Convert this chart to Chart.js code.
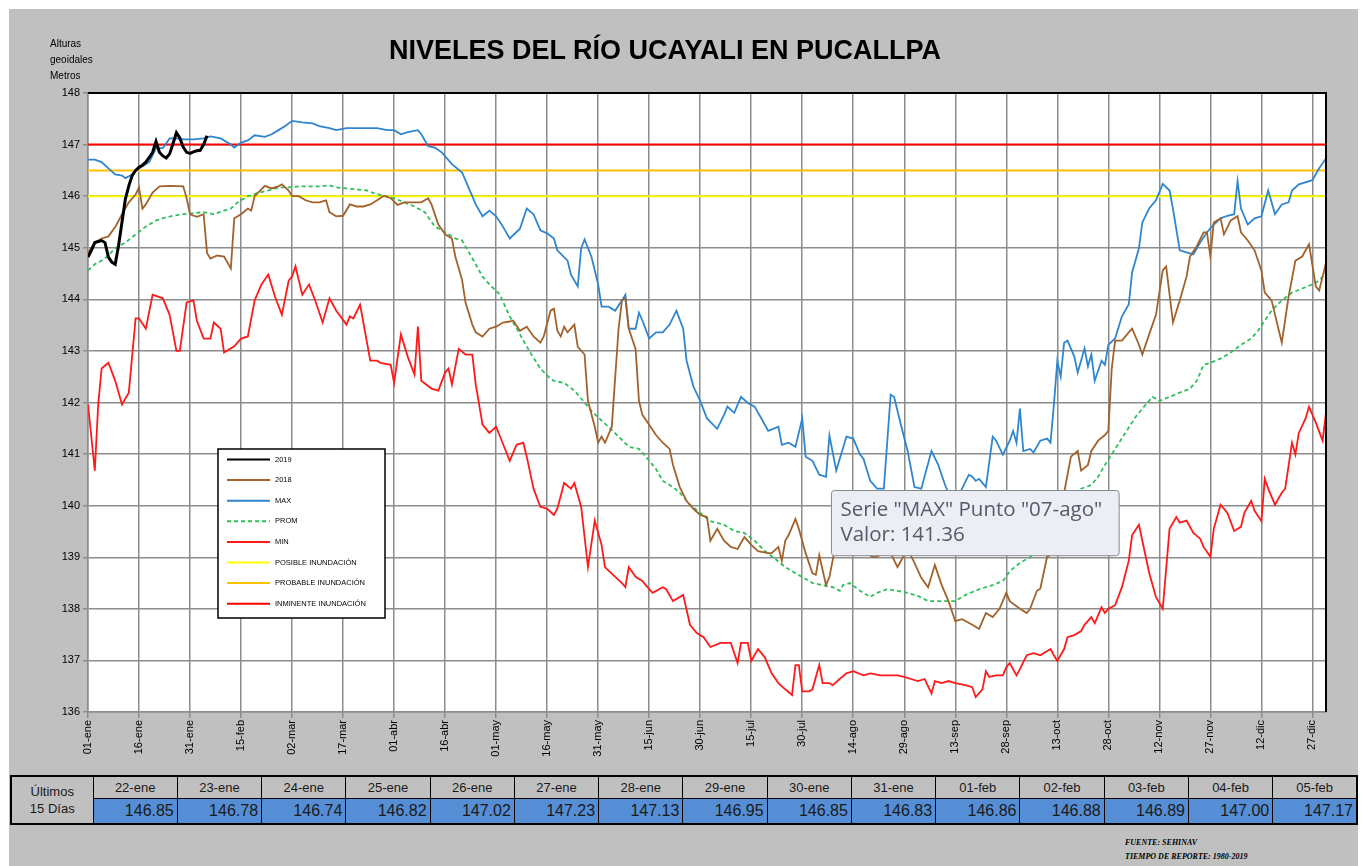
<!DOCTYPE html>
<html lang="es">
<head>
<meta charset="utf-8">
<title>Niveles del Río Ucayali en Pucallpa</title>
<script src="https://cdn.jsdelivr.net/npm/chart.js@4.4.1/dist/chart.umd.min.js"></script>
<style>
  html, body { margin: 0; padding: 0; background: #fff; }
  body { width: 1367px; height: 866px; position: relative; overflow: hidden; font-family: "Liberation Sans", Arial, sans-serif; }
  #fondo { position: absolute; left: 9px; top: 9px; width: 1349px; height: 857px; background: #c0c0c0; }
  #grafico { position: absolute; left: 0; top: 0; }
  #titulo { position: absolute; left: 0; width: 1330px; top: 35px; text-align: center; font-weight: bold; font-size: 27px; color: #000; }
  #unidad { position: absolute; left: 50px; top: 36px; font-size: 10px; line-height: 16px; color: #000; }
  #tabla { position: absolute; left: 10px; top: 775px; width: 1348px; border-collapse: collapse; table-layout: fixed; border: 2px solid #000; }
  #tabla td { border: 1.5px solid #000; padding: 0; color: #1a1a1a; }
  #tabla .cab { height: 21px; font-size: 13px; text-align: center; background: #c0c0c0; }
  #tabla .val { height: 24px; font-size: 16px; text-align: right; padding-right: 3px; background: #558ed5; }
  #tabla .izq { font-size: 13px; line-height: 17px; text-align: center; background: #c0c0c0; }
  #fuente { position: absolute; left: 1125px; top: 836px; font-family: "Liberation Serif", serif; font-style: italic; font-weight: bold; font-size: 8px; line-height: 14px; color: #000; }
</style>
</head>
<body>
<div id="fondo"></div>
<canvas id="grafico" width="1367" height="770"></canvas>
<div id="titulo">NIVELES DEL RÍO UCAYALI EN PUCALLPA</div>
<div id="unidad">Alturas<br>geoidales<br>Metros</div>
<table id="tabla">
  <colgroup id="columnas"></colgroup>
  <tr id="filaFechas"><td class="izq" rowspan="2">Últimos<br>15 Días</td></tr>
  <tr id="filaValores"></tr>
</table>
<div id="fuente">FUENTE: SEHINAV<br>TIEMPO DE REPORTE: 1980-2019</div>

<script>
// === Etiquetas del eje X (cada 15 días) ===
const etiquetasX = ["01-ene", "16-ene", "31-ene", "15-feb", "02-mar", "17-mar", "01-abr", "16-abr", "01-may",
  "16-may", "31-may", "15-jun", "30-jun", "15-jul", "30-jul", "14-ago", "29-ago", "13-sep", "28-sep",
  "13-oct", "28-oct", "12-nov", "27-nov", "12-dic", "27-dic"];
const meses = ["ene", "feb", "mar", "abr", "may", "jun", "jul", "ago", "sep", "oct", "nov", "dic"];
const diasMes = [31, 28, 31, 30, 31, 30, 31, 31, 30, 31, 30, 31];

// === Últimos 15 días (tabla) ===
const ultimasFechas = ["22-ene", "23-ene", "24-ene", "25-ene", "26-ene", "27-ene", "28-ene", "29-ene",
  "30-ene", "31-ene", "01-feb", "02-feb", "03-feb", "04-feb", "05-feb"];
const ultimosValores = [146.85, 146.78, 146.74, 146.82, 147.02, 147.23, 147.13, 146.95,
  146.85, 146.83, 146.86, 146.88, 146.89, 147.00, 147.17];

// === Año 2019 (01-ene a 21-ene), luego la tabla ===
const inicio2019 = [144.82, 144.95, 145.10, 145.12, 145.14, 145.10, 144.82, 144.72, 144.68, 145.05,
  145.50, 145.95, 146.20, 146.40, 146.50, 146.56, 146.60, 146.66, 146.75, 146.85, 147.06];

// === Series históricas [día del año, nivel] ===
const serie2018 = [[0,144.9],[2,145.1],[4,145.18],[6,145.22],[8,145.4],[10,145.65],[12,145.88],[14,146.03],[15,146.17],[16,145.76],[17,145.84],[19,146.07],[21,146.19],[24,146.2],[28,146.19],[29,145.96],[30,145.65],[32,145.6],[34,145.65],[35,144.9],[36,144.79],[38,144.85],[40,144.83],[42,144.6],[43,145.57],[45,145.65],[47,145.76],[48,145.72],[49,146.0],[52,146.2],[54,146.15],[56,146.19],[57,146.23],[59,146.11],[60,146.0],[62,146.0],[64,145.92],[66,145.88],[68,145.88],[70,145.92],[71,145.69],[73,145.61],[75,145.62],[77,145.84],[79,145.8],[81,145.8],[83,145.84],[85,145.92],[87,146.01],[89,145.96],[91,145.83],[93,145.88],[96,145.88],[98,145.88],[100,145.96],[101,145.84],[103,145.45],[105,145.26],[107,145.18],[108,144.83],[110,144.37],[111,143.94],[113,143.51],[114,143.36],[116,143.28],[118,143.43],[120,143.47],[122,143.55],[124,143.57],[125,143.59],[127,143.39],[129,143.47],[131,143.28],[133,143.16],[134,143.28],[136,143.78],[137,143.82],[138,143.39],[139,143.28],[140,143.47],[141,143.36],[143,143.51],[144,143.08],[146,142.93],[147,142.03],[149,141.53],[150,141.22],[151,141.34],[152,141.22],[154,141.53],[156,143.43],[157,143.98],[158,144.02],[159,143.43],[161,143.04],[162,142.03],[163,141.76],[165,141.57],[167,141.37],[169,141.22],[171,141.1],[172,140.79],[174,140.36],[176,140.09],[178,139.94],[180,139.82],[182,139.78],[183,139.32],[185,139.55],[187,139.32],[189,139.2],[191,139.16],[192,139.28],[193,139.39],[195,139.24],[197,139.12],[200,139.08],[201,139.08],[203,139.2],[204,138.93],[205,139.32],[206,139.43],[208,139.74],[209,139.55],[211,139.08],[213,138.69],[214,138.66],[215,139.04],[217,138.46],[218,138.62],[220,139.3],[222,139.6],[224,139.4],[226,139.2],[228,139.1],[231,139.0],[233,139.04],[236,139.08],[238,138.81],[241,139.16],[243,138.89],[245,138.6],[247,138.42],[249,138.85],[251,138.46],[253,138.15],[255,137.76],[257,137.8],[260,137.69],[262,137.61],[264,137.92],[266,137.84],[268,138.0],[270,138.31],[271,138.15],[274,138.0],[276,137.92],[277,138.0],[279,138.35],[280,138.39],[282,139.01],[283,139.04],[284,139.55],[287,140.25],[289,140.95],[291,141.06],[292,140.68],[294,140.79],[295,141.06],[297,141.26],[299,141.37],[300,141.45],[301,142.66],[302,143.2],[304,143.2],[306,143.36],[307,143.43],[309,143.12],[310,142.93],[312,143.32],[314,143.7],[316,144.56],[317,144.64],[319,143.55],[321,143.98],[323,144.44],[324,144.83],[326,145.03],[328,145.3],[329,145.3],[330,144.83],[331,145.49],[333,145.57],[334,145.26],[336,145.53],[338,145.61],[339,145.3],[341,145.14],[343,144.95],[345,144.56],[346,144.13],[348,143.98],[350,143.43],[351,143.16],[353,144.05],[355,144.75],[357,144.83],[359,145.07],[361,144.25],[362,144.17],[364,144.71]];

const serieMax = [[0,146.71],[2,146.71],[4,146.66],[6,146.54],[8,146.42],[10,146.4],[11,146.35],[13,146.42],[14,146.5],[16,146.58],[18,146.66],[20,146.93],[22,146.93],[24,147.12],[26,147.12],[28,147.1],[31,147.1],[34,147.12],[36,147.16],[39,147.12],[42,147.0],[43,146.94],[45,147.04],[47,147.08],[49,147.18],[52,147.15],[54,147.2],[56,147.28],[58,147.36],[60,147.46],[63,147.43],[66,147.41],[68,147.36],[71,147.32],[73,147.28],[76,147.32],[79,147.32],[82,147.32],[85,147.32],[88,147.28],[90,147.28],[92,147.2],[94,147.24],[97,147.28],[98,147.2],[100,146.97],[102,146.94],[104,146.85],[107,146.62],[110,146.46],[112,146.15],[114,145.84],[116,145.61],[118,145.72],[120,145.61],[122,145.41],[124,145.18],[127,145.37],[129,145.76],[131,145.65],[133,145.34],[135,145.28],[137,145.18],[138,144.95],[141,144.75],[142,144.48],[144,144.25],[145,144.99],[146,145.16],[148,144.83],[150,144.29],[151,143.86],[153,143.86],[154,143.82],[155,143.78],[157,143.98],[158,144.09],[159,143.43],[161,143.43],[162,143.74],[163,143.59],[165,143.24],[167,143.36],[169,143.36],[171,143.51],[173,143.78],[175,143.43],[176,142.81],[178,142.31],[180,142.03],[182,141.69],[185,141.49],[187,141.76],[188,141.92],[190,141.8],[192,142.11],[194,141.99],[196,141.92],[198,141.69],[200,141.45],[203,141.53],[204,141.18],[206,141.22],[208,141.14],[210,141.69],[211,140.95],[213,140.87],[215,140.6],[217,140.56],[218,141.36],[220,140.68],[223,141.34],[225,141.3],[227,140.99],[228,140.91],[230,140.48],[232,140.33],[234,140.33],[236,142.15],[237,142.11],[239,141.57],[241,141.06],[243,140.36],[245,140.33],[248,141.06],[250,140.79],[252,140.4],[254,140.1],[256,140.2],[259,140.6],[260,140.56],[261,140.48],[262,140.52],[264,140.36],[266,141.34],[267,141.26],[269,140.99],[271,141.26],[272,141.45],[273,141.22],[274,141.88],[275,141.06],[277,141.1],[278,141.03],[280,141.26],[282,141.3],[283,141.22],[284,141.96],[285,142.81],[286,142.5],[287,143.16],[288,143.2],[290,142.89],[291,142.58],[293,143.05],[294,142.7],[295,142.93],[296,142.42],[298,142.81],[299,142.73],[300,143.12],[302,143.24],[304,143.67],[306,143.9],[307,144.52],[309,144.99],[310,145.49],[312,145.76],[314,145.92],[316,146.24],[318,146.11],[319,145.76],[321,144.95],[323,144.91],[325,144.87],[327,145.1],[329,145.3],[331,145.45],[333,145.57],[335,145.62],[337,145.65],[338,146.29],[339,145.76],[341,145.45],[343,145.57],[345,145.61],[347,146.11],[348,145.88],[349,145.65],[351,145.84],[353,145.88],[354,146.11],[356,146.23],[360,146.31],[362,146.54],[364,146.73]];

const seriePromedio = [[0,144.56],[2,144.68],[5,144.79],[8,144.99],[11,145.1],[14,145.26],[17,145.41],[20,145.53],[23,145.59],[25,145.62],[28,145.65],[31,145.67],[34,145.69],[37,145.65],[40,145.72],[42,145.76],[44,145.88],[47,146.0],[50,146.06],[53,146.11],[56,146.17],[59,146.17],[62,146.19],[65,146.19],[68,146.19],[71,146.21],[73,146.17],[76,146.15],[79,146.13],[82,146.11],[84,146.06],[87,146.01],[90,145.96],[93,145.88],[96,145.8],[99,145.69],[102,145.41],[104,145.34],[106,145.26],[108,145.18],[110,145.14],[112,144.91],[114,144.68],[116,144.44],[118,144.29],[121,144.1],[124,143.67],[127,143.32],[130,142.97],[133,142.66],[136,142.46],[137,142.42],[140,142.38],[143,142.23],[146,142.0],[148,141.84],[151,141.65],[153,141.53],[156,141.34],[159,141.14],[162,141.1],[164,140.95],[167,140.71],[169,140.48],[172,140.36],[174,140.25],[177,140.02],[180,139.86],[183,139.7],[187,139.63],[190,139.51],[193,139.47],[196,139.32],[199,139.12],[202,138.97],[205,138.81],[208,138.69],[211,138.58],[213,138.5],[216,138.46],[219,138.42],[221,138.35],[222,138.46],[224,138.5],[227,138.35],[230,138.23],[232,138.31],[235,138.38],[238,138.35],[241,138.31],[244,138.25],[247,138.15],[251,138.15],[255,138.15],[258,138.27],[262,138.38],[266,138.46],[269,138.54],[271,138.73],[274,138.89],[277,139.0],[280,139.08],[283,139.16],[286,139.55],[289,140.02],[292,140.33],[295,140.4],[297,140.56],[299,140.79],[302,141.1],[305,141.41],[308,141.72],[311,141.96],[313,142.11],[315,142.03],[318,142.11],[321,142.19],[324,142.27],[326,142.42],[328,142.73],[330,142.77],[333,142.85],[336,142.97],[339,143.12],[342,143.24],[344,143.39],[346,143.59],[348,143.78],[351,143.98],[354,144.13],[357,144.21],[360,144.29],[362,144.36],[364,144.52]];

const serieMin = [[0,141.96],[2,140.68],[3,141.96],[4,142.66],[6,142.77],[8,142.42],[10,141.96],[12,142.19],[14,143.63],[15,143.63],[17,143.43],[19,144.09],[22,144.02],[24,143.7],[26,143.0],[27,143.0],[29,143.94],[31,143.98],[32,143.59],[34,143.24],[36,143.24],[37,143.55],[39,143.43],[40,142.97],[43,143.09],[45,143.24],[47,143.28],[49,143.98],[51,144.29],[53,144.48],[55,144.05],[57,143.7],[59,144.36],[60,144.44],[61,144.64],[63,144.09],[65,144.29],[67,143.94],[69,143.55],[71,144.02],[73,143.78],[76,143.51],[77,143.67],[78,143.63],[80,143.9],[83,142.81],[85,142.81],[86,142.77],[89,142.73],[90,142.38],[92,143.32],[94,142.89],[96,142.54],[97,143.47],[98,142.42],[101,142.27],[103,142.23],[105,142.58],[106,142.66],[107,142.35],[109,143.04],[111,142.93],[113,142.93],[114,142.35],[116,141.57],[118,141.41],[120,141.53],[122,141.2],[124,140.87],[126,141.18],[128,141.22],[129,140.95],[131,140.33],[133,139.98],[135,139.94],[137,139.82],[138,139.94],[140,140.44],[142,140.33],[143,140.44],[145,139.98],[147,138.81],[149,139.71],[151,139.24],[152,138.81],[155,138.62],[157,138.5],[158,138.42],[159,138.81],[161,138.62],[163,138.54],[164,138.46],[166,138.31],[169,138.42],[170,138.38],[172,138.15],[175,138.27],[177,137.69],[179,137.53],[181,137.45],[183,137.26],[186,137.34],[189,137.34],[191,136.95],[192,137.34],[194,137.34],[195,136.99],[197,137.22],[199,137.06],[201,136.75],[203,136.56],[205,136.44],[207,136.33],[208,136.91],[209,136.91],[210,136.4],[212,136.4],[213,136.44],[215,136.91],[216,136.56],[218,136.56],[219,136.52],[221,136.64],[223,136.75],[225,136.79],[228,136.71],[230,136.75],[233,136.71],[235,136.71],[238,136.71],[240,136.68],[242,136.64],[244,136.6],[246,136.64],[248,136.36],[249,136.6],[251,136.56],[253,136.6],[255,136.56],[258,136.52],[260,136.48],[261,136.29],[263,136.44],[264,136.79],[265,136.68],[267,136.71],[269,136.71],[270,136.87],[271,136.95],[273,136.71],[274,136.83],[276,137.1],[278,137.14],[280,137.1],[283,137.22],[284,137.1],[285,136.99],[287,137.22],[288,137.45],[290,137.49],[292,137.57],[293,137.69],[295,137.84],[296,137.72],[298,138.03],[299,137.92],[300,138.0],[302,138.07],[304,138.42],[306,138.93],[307,139.43],[309,139.63],[310,139.32],[312,138.7],[314,138.23],[316,138.0],[317,138.77],[318,139.55],[320,139.78],[321,139.67],[323,139.71],[325,139.47],[327,139.36],[328,139.2],[330,139.01],[331,139.55],[333,140.02],[335,139.86],[337,139.51],[339,139.59],[340,139.86],[342,140.09],[343,139.9],[345,139.7],[346,140.52],[347,140.33],[349,140.02],[351,140.25],[352,140.33],[354,141.22],[355,140.99],[356,141.41],[358,141.69],[359,141.92],[361,141.61],[363,141.26],[364,141.8]];

// === Niveles de alerta ===
const nombresAlerta = ["POSIBLE INUNDACIÓN", "PROBABLE INUNDACIÓN", "INMINENTE INUNDACIÓN"];
const nivelesAlerta = [146, 146.5, 147];
const coloresAlerta = ["#ffff00", "#ffc000", "#ff0000"];

// === Punto señalado ===
const puntoSerie = "MAX";
const puntoDia = 218;

const ultimoDia = 364;

function fechaDeDia(d) {
  let m = 0;
  while (d >= diasMes[m]) { d -= diasMes[m]; m++; }
  return String(d + 1).padStart(2, "0") + "-" + meses[m];
}

const aPuntos = (serie) => serie.map(([x, y]) => ({ x, y }));
const datos2019 = inicio2019.concat(ultimosValores).map((y, i) => ({ x: i, y }));

const datasets = [
  { label: "2019", data: datos2019, borderColor: "#000000", borderWidth: 3 },
  { label: "2018", data: aPuntos(serie2018), borderColor: "#a3622b", borderWidth: 1.8 },
  { label: "MAX", data: aPuntos(serieMax), borderColor: "#2f86cf", borderWidth: 1.8 },
  { label: "PROM", data: aPuntos(seriePromedio), borderColor: "#2fbf5c", borderWidth: 1.8, borderDash: [4, 3] },
  { label: "MIN", data: aPuntos(serieMin), borderColor: "#ff1a1a", borderWidth: 1.8 },
];
nombresAlerta.forEach((nombre, i) => {
  datasets.push({
    label: nombre,
    data: [{ x: 0, y: nivelesAlerta[i] }, { x: ultimoDia, y: nivelesAlerta[i] }],
    borderColor: coloresAlerta[i], borderWidth: 2,
  });
});
datasets.forEach((ds) => { ds.pointRadius = 0; ds.pointHoverRadius = 0; ds.tension = 0; ds.fill = false; });

// === Plugins propios ===
const areaBlanca = {
  id: "areaBlanca",
  beforeDraw(chart) {
    const { ctx, chartArea: a } = chart;
    ctx.save();
    ctx.fillStyle = "#ffffff";
    ctx.fillRect(a.left, a.top, a.right - a.left, a.bottom - a.top);
    ctx.restore();
  },
  afterDatasetsDraw(chart) {
    const { ctx, chartArea: a } = chart;
    ctx.save();
    ctx.strokeStyle = "#000000";
    ctx.lineWidth = 2;
    ctx.beginPath();
    ctx.moveTo(a.left, a.top);
    ctx.lineTo(a.right, a.top);
    ctx.lineTo(a.right, a.bottom);
    ctx.stroke();
    ctx.restore();
  },
};

const leyendaCaja = {
  id: "leyendaCaja",
  afterDatasetsDraw(chart) {
    const { ctx, chartArea: a } = chart;
    const x0 = a.left + 130, y0 = a.top + 356, w = 167, h = 169;
    ctx.save();
    ctx.fillStyle = "#ffffff";
    ctx.fillRect(x0, y0, w, h);
    ctx.strokeStyle = "#000000";
    ctx.lineWidth = 1.5;
    ctx.strokeRect(x0, y0, w, h);
    chart.data.datasets.forEach((ds, i) => {
      const y = y0 + 10.5 + i * 20.6;
      ctx.beginPath();
      ctx.strokeStyle = ds.borderColor;
      ctx.lineWidth = 2;
      ctx.setLineDash(ds.borderDash || []);
      ctx.moveTo(x0 + 9, y);
      ctx.lineTo(x0 + 52, y);
      ctx.stroke();
      ctx.setLineDash([]);
      ctx.fillStyle = "#000000";
      ctx.font = "7.5px 'Liberation Sans', Arial";
      ctx.textBaseline = "middle";
      ctx.fillText(ds.label, x0 + 57, y);
    });
    ctx.restore();
  },
};

Chart.Tooltip.positioners.fijo = function (elements) {
  if (!elements.length) return false;
  const el = elements[0].element;
  return { x: el.x + 5, y: el.y + 55 };
};

const ejeGris = "#8c8c8c";

const chart = new Chart(document.getElementById("grafico"), {
  type: "line",
  data: { datasets },
  options: {
    responsive: false,
    animation: false,
    events: [],
    layout: { padding: { left: 0, top: 93, right: 41, bottom: 0 } },
    scales: {
      x: {
        type: "linear",
        min: 0,
        max: ultimoDia,
        afterBuildTicks: (scale) => { scale.ticks = etiquetasX.map((_, i) => ({ value: i * 15 })); },
        afterFit: (scale) => { scale.height = 58; },
        ticks: {
          autoSkip: false,
          minRotation: 90,
          maxRotation: 90,
          padding: 2,
          color: "#000000",
          font: { family: "'Liberation Sans', Arial", size: 11 },
          callback: (value, index) => etiquetasX[index],
        },
        grid: { color: ejeGris, lineWidth: 1.5, tickLength: 6 },
        border: { color: ejeGris, width: 1.5 },
      },
      y: {
        min: 136,
        max: 148,
        afterFit: (scale) => { scale.width = 88; },
        ticks: {
          stepSize: 1,
          padding: 3,
          color: "#000000",
          font: { family: "'Liberation Sans', Arial", size: 11 },
          callback: (value) => value,
        },
        grid: { color: ejeGris, lineWidth: 1.5, tickLength: 5 },
        border: { color: ejeGris, width: 1.5 },
      },
    },
    plugins: {
      legend: { display: false },
      title: { display: false },
      tooltip: {
        enabled: true,
        position: "fijo",
        xAlign: "left",
        yAlign: "top",
        caretSize: 0,
        caretPadding: 0,
        backgroundColor: "#eceef5",
        borderColor: "#8a8a8a",
        borderWidth: 1,
        cornerRadius: 3,
        displayColors: false,
        titleColor: "#545a68",
        bodyColor: "#545a68",
        titleFont: { family: "'Open Sans'", size: 20.5, weight: "normal" },
        bodyFont: { family: "'Open Sans'", size: 20.5 },
        titleMarginBottom: 1,
        padding: { left: 9, right: 17, top: 7, bottom: 8 },
        callbacks: {
          title: (items) => 'Serie "' + items[0].dataset.label + '" Punto "' + fechaDeDia(items[0].raw.x) + '"',
          label: (item) => "Valor: " + item.raw.y.toFixed(2),
        },
      },
    },
  },
  plugins: [areaBlanca, leyendaCaja],
});

// === Mostrar el cuadro del punto señalado ===
const idxSerie = datasets.findIndex((ds) => ds.label === puntoSerie);
const idxPunto = datasets[idxSerie].data.findIndex((p) => p.x === puntoDia);
chart.tooltip.setActiveElements([{ datasetIndex: idxSerie, index: idxPunto }], { x: 0, y: 0 });
chart.update();

// === Tabla de los últimos 15 días ===
const columnas = document.getElementById("columnas");
const filaFechas = document.getElementById("filaFechas");
const filaValores = document.getElementById("filaValores");
const colIzq = document.createElement("col");
colIzq.style.width = "82px";
columnas.appendChild(colIzq);
ultimasFechas.forEach((fecha, i) => {
  const col = document.createElement("col");
  columnas.appendChild(col);
  const tdF = document.createElement("td");
  tdF.className = "cab";
  tdF.textContent = fecha;
  filaFechas.appendChild(tdF);
  const tdV = document.createElement("td");
  tdV.className = "val";
  tdV.textContent = ultimosValores[i].toFixed(2);
  filaValores.appendChild(tdV);
});
</script>
</body>
</html>
